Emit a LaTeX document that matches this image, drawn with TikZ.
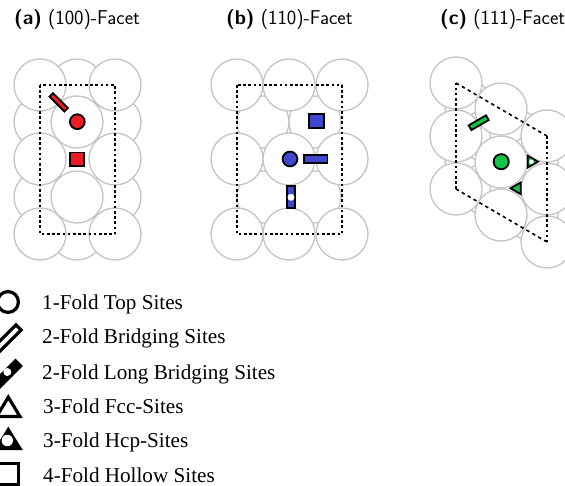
\documentclass[tikz,border=0pt]{standalone}
\usepackage{fontspec}
\setmainfont{Liberation Serif}
\setsansfont{Latin Modern Sans}
\definecolor{atom}{HTML}{C4C4C4}
\definecolor{redsite}{HTML}{ED1C24}
\definecolor{bluesite}{HTML}{3F48CC}
\definecolor{greensite}{HTML}{12C445}
\tikzset{
  atomc/.style={draw=atom,fill=white,line width=1.3pt},
  cell/.style={draw=black,line width=1.6pt,dash pattern=on 2.6pt off 2.6pt,line join=round},
  celld/.style={draw=black,line width=1.6pt,dash pattern=on 3.4pt off 3.4pt},
  site/.style={draw=black,line width=1.8pt,line join=miter},
  legsym/.style={draw=black,line width=3.2pt,fill=white,line join=miter},
  title/.style={font=\sffamily\fontsize{20}{22}\selectfont,anchor=base west,inner sep=0pt},
  legtext/.style={font=\fontsize{21.15}{23}\selectfont,anchor=base west,inner sep=0pt}
}
\begin{document}
\begin{tikzpicture}[x=1pt,y=-1pt]
\useasboundingbox (0,0) rectangle (565,486);
\def\R{26}
% (a)
\foreach \p in {(77,85),(40,122),(115,122),(40,197),(115,197),(77,234)} \draw[atomc] \p circle (\R);
\foreach \p in {(40,85),(115,85),(77,122),(40,159),(115,159),(77,197),(40,234),(115,234)} \draw[atomc] \p circle (\R);
\draw[cell] (40,85) rectangle (115,234);
\draw[site,fill=redsite] (77.3,121.7) circle (7.4);
\draw[site,fill=redsite] (70.2,152.6) rectangle (84.1,166.4);
\draw[site,fill=redsite,rotate around={-45:(58.7,102.3)}] (48.2,99.8) rectangle (69.2,104.8);
% (b)
\foreach \p in {(263,122),(315,122),(263,197),(315,197)} \draw[atomc] \p circle (\R);
\foreach \x in {237,342,289} \foreach \y in {85,159,234} \draw[atomc] (\x,\y) circle (\R);
\draw[cell] (237,85) rectangle (342,234);
\draw[site,fill=bluesite] (309.2,114.2) rectangle (324.1,128.1);
\draw[site,fill=bluesite] (290,159) circle (7.4);
\draw[site,fill=bluesite] (304.2,155.2) rectangle (327.4,163.1);
\draw[site,fill=bluesite] (286.9,186) rectangle (295.1,208.4);
\fill[white] (291,197.3) circle (3.5);
% (c)
\foreach \p in {(471,109),(471,162),(486,136),(486,189),(516,136),(516,189),(532,162),(532,215)} \draw[atomc] \p circle (\R);
\foreach \p in {(456,83),(456,136),(456,189),(501,109),(501,215),(547,136),(547,189),(547,242),(501,162)} \draw[atomc] \p circle (\R);
\draw[celld] (456,83) -- (547,136);
\draw[cell] (547,136) -- (547,242);
\draw[celld] (547,242) -- (456,189);
\draw[cell] (456,189) -- (456,83);
\draw[site,fill=greensite] (501.2,161.7) circle (7.6);
\draw[site,fill=greensite,rotate around={30:(478.7,122.7)}] (468.7,120) rectangle (488.7,125.4);
\draw[site,fill=greensite] (510.6,188.3) -- (520.7,182.5) -- (520.7,194.1) -- cycle;
\draw[site,fill=greensite] (527.7,155.8) -- (538,161.7) -- (527.7,167.6) -- cycle;
\fill[white] (531.4,161.7) circle (2.3);
% titles
\node[title] (ta) at (14,25) {\textbf{(a)} (100)-Facet};
\node[title] (tb) at (226,25) {\textbf{(b)} (110)-Facet};
\node[title] (tc) at (440,25) {\textbf{(c)} (111)-Facet};
% legend symbols
\draw[legsym] (8,302) circle (10.4);
\draw[legsym,rotate around={45:(8,338)}] (-7,334.4) rectangle (23,341.6);
\draw[legsym,fill=black,rotate around={45:(7.5,374)}] (-7.5,370.4) rectangle (22.5,377.6);
\fill[white] (7.3,372) circle (4);
\draw[legsym] (-3.3,416.4) -- (8.3,397.2) -- (19.9,416.4) -- cycle;
\draw[legsym,fill=black] (-3.3,448.4) -- (8.3,429.7) -- (19.9,448.4) -- cycle;
\fill[white] (7.3,440.5) circle (5.7);
\draw[legsym] (-4,463.6) rectangle (18.4,484.4);
% legend text
\node[legtext] (l1) at (42,310) {1-Fold Top Sites};
\node[legtext] (l2) at (42,344) {2-Fold Bridging Sites};
\node[legtext] (l3) at (42,379) {2-Fold Long Bridging Sites};
\node[legtext] (l4) at (43,413) {3-Fold Fcc-Sites};
\node[legtext] (l5) at (43,447) {3-Fold Hcp-Sites};
\node[legtext] (l6) at (43,482) {4-Fold Hollow Sites};
\end{tikzpicture}
\end{document}
